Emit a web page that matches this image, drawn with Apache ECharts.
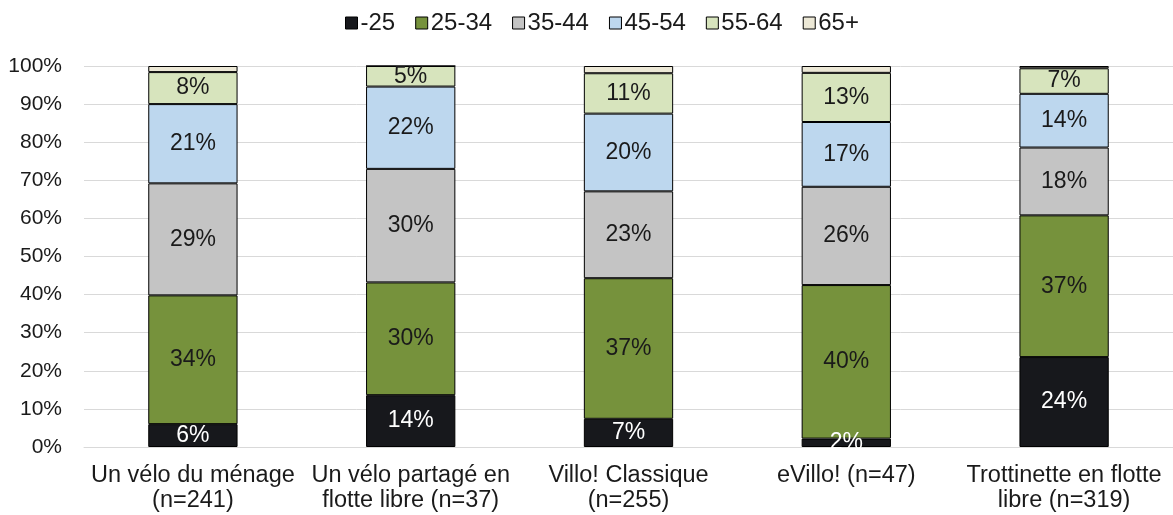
<!DOCTYPE html>
<html>
<head>
<meta charset="utf-8">
<script src="https://cdn.jsdelivr.net/npm/echarts@6/dist/echarts.min.js"></script>
<style>html,body{margin:0;padding:0;background:#fff}#c{width:1173px;height:515px}</style>
</head>
<body>
<div id="c"></div>
<script>
const categories = ["Un vélo du ménage\n(n=241)", "Un vélo partagé en\nflotte libre (n=37)", "Villo! Classique\n(n=255)", "eVillo! (n=47)", "Trottinette en flotte\nlibre (n=319)"];
const seriesNames = ["-25", "25-34", "35-44", "45-54", "55-64", "65+"];
const s_u25   = [6.0, 13.6, 7.4, 2.2, 23.6];
const s_25_34 = [33.8, 29.6, 36.9, 40.3, 37.2];
const s_35_44 = [29.4, 29.8, 22.8, 25.8, 17.8];
const s_45_54 = [20.8, 21.6, 20.4, 17.0, 14.1];
const s_55_64 = [8.4, 5.4, 10.6, 12.9, 6.7];
const s_65p   = [1.6, 0.0, 1.9, 1.8, 0.6];
const yTicks = [0, 10, 20, 30, 40, 50, 60, 70, 80, 90, 100];

const colors = ["#17181c", "#76923c", "#c4c4c4", "#bdd7ee", "#d7e4bd", "#ece8d6"];
const labelColors = ["#ffffff", "#1a1a1a", "#1a1a1a", "#1a1a1a", "#1a1a1a", "#1a1a1a"];
const allData = [s_u25, s_25_34, s_35_44, s_45_54, s_55_64, s_65p];
const FONT = "Liberation Sans, Arial, sans-serif";

const series = seriesNames.map((name, i) => ({
  name: name,
  type: "bar",
  stack: "total",
  barWidth: "41%",
  data: allData[i],
  itemStyle: { color: colors[i], borderColor: "#000", borderWidth: 1 },
  label: {
    show: i < 5,
    position: "inside",
    color: labelColors[i],
    fontFamily: FONT,
    fontSize: 23,
    formatter: p => p.value > 0 ? Math.round(p.value) + "%" : ""
  },
  labelLayout: { hideOverlap: false }
}));

const chart = echarts.init(document.getElementById("c"), null, { renderer: "canvas" });
chart.setOption({
  animation: false,
  textStyle: { fontFamily: FONT },
  legend: {
    top: 6,
    left: 340,
    itemWidth: 12,
    itemHeight: 12,
    itemGap: 20,
    icon: "rect",
    textStyle: { fontSize: 24, color: "#1a1a1a", fontFamily: FONT, padding: [0, 0, 0, -2] },
    itemStyle: { borderColor: "#000", borderWidth: 1 },
    data: seriesNames
  },
  grid: { left: 84, right: 0, top: 66, bottom: 68, containLabel: false },
  xAxis: {
    type: "category",
    data: categories,
    axisLine: { show: true, lineStyle: { color: "#d9d9d9" } },
    axisTick: { show: false },
    axisLabel: { fontSize: 23.5, color: "#1a1a1a", fontFamily: FONT, lineHeight: 25, margin: 16, interval: 0 }
  },
  yAxis: {
    type: "value",
    min: 0,
    max: 100,
    interval: 10,
    axisLine: { show: false },
    axisTick: { show: false },
    splitLine: { lineStyle: { color: "#d9d9d9", width: 1 } },
    axisLabel: { fontSize: 21, color: "#1a1a1a", fontFamily: FONT, margin: 22, formatter: v => v + "%" }
  },
  series: series
});
</script>
</body>
</html>
